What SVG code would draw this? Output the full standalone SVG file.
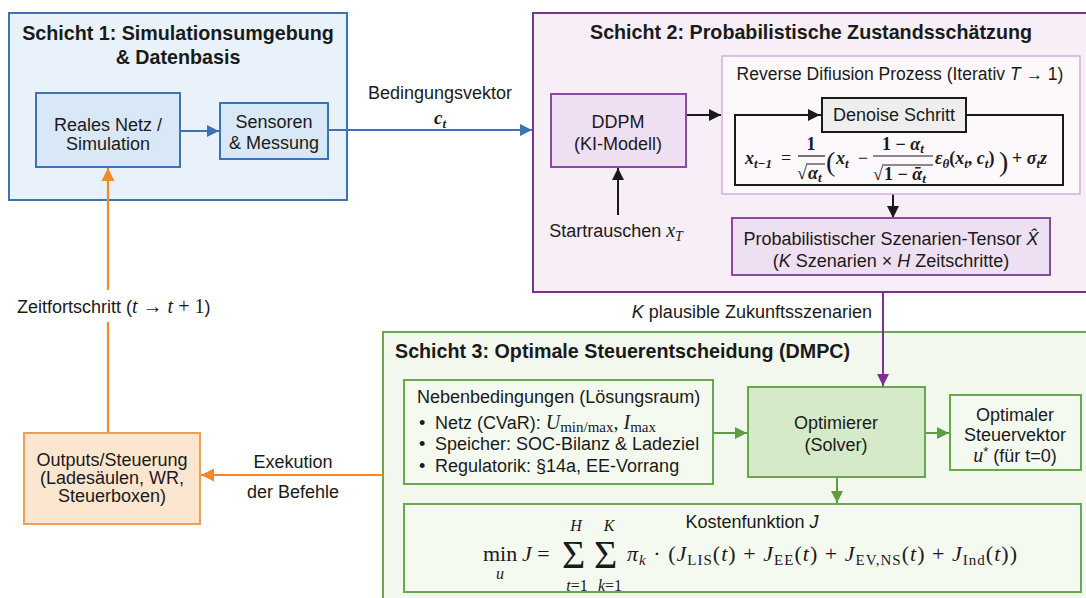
<svg xmlns="http://www.w3.org/2000/svg" width="1086" height="598" viewBox="0 0 1086 598">
<defs>
<style>
.t{font-family:"Liberation Sans",Arial,sans-serif;font-size:18px;fill:#1a1a1a}
.c{text-anchor:middle}
.h{font-family:"Liberation Sans",Arial,sans-serif;font-size:19.7px;font-weight:bold;fill:#1a1a1a}
.m{font-family:"Liberation Serif","DejaVu Serif",serif;font-size:18px;fill:#1a1a1a}
.i{font-style:italic}
.s{font-size:13px}
.k{font-family:"Liberation Serif","DejaVu Serif",serif;font-size:22px;fill:#1a1a1a}
.blue{stroke:#3b73b3;stroke-width:2;fill:none}
.pur{stroke:#7a3190;stroke-width:2;fill:none}
.blk{stroke:#1a1a1a;stroke-width:2;fill:none}
.grn{stroke:#5f9e3f;stroke-width:2;fill:none}
.org{stroke:#f08a2c;stroke-width:2.2;fill:none}
</style>
<marker id="ab" viewBox="0 0 10 10" refX="10" refY="5" markerWidth="6" markerHeight="6" orient="auto-start-reverse"><path d="M0,0 L10,5 L0,10 z" fill="#3b73b3"/></marker>
<marker id="ap" viewBox="0 0 10 10" refX="10" refY="5" markerWidth="6" markerHeight="6" orient="auto-start-reverse"><path d="M0,0 L10,5 L0,10 z" fill="#7a3190"/></marker>
<marker id="ak" viewBox="0 0 10 10" refX="10" refY="5" markerWidth="6" markerHeight="6" orient="auto-start-reverse"><path d="M0,0 L10,5 L0,10 z" fill="#1a1a1a"/></marker>
<marker id="ag" viewBox="0 0 10 10" refX="10" refY="5" markerWidth="6" markerHeight="6" orient="auto-start-reverse"><path d="M0,0 L10,5 L0,10 z" fill="#5f9e3f"/></marker>
<marker id="ao" viewBox="0 0 10 10" refX="10" refY="5" markerWidth="6" markerHeight="6" orient="auto-start-reverse"><path d="M0,0 L10,5 L0,10 z" fill="#f08a2c"/></marker>
</defs>
<rect width="1086" height="598" fill="#ffffff"/>

<!-- Layer containers -->
<g id="schicht1">
<rect x="9" y="13" width="338" height="187" fill="#e9f2fb" stroke="#3b73b3" stroke-width="2"/>
<text class="h c" x="178" y="40">Schicht 1: Simulationsumgebung</text>
<text class="h c" x="178" y="64">&amp; Datenbasis</text>
</g>
<g id="schicht2">
<rect x="533" y="13" width="560" height="279" fill="#f7eef8" stroke="#7a3190" stroke-width="2"/>
<text class="h c" x="811" y="39">Schicht 2: Probabilistische Zustandsschätzung</text>
</g>
<g id="schicht3">
<rect x="383" y="332" width="710" height="272" fill="#f3f8ee" stroke="#6aa84f" stroke-width="2"/>
<text class="h" x="395" y="358">Schicht 3: Optimale Steuerentscheidung (DMPC)</text>
</g>

<!-- Connectors -->
<g id="connectors">
<line class="blue" x1="180" y1="131" x2="219" y2="131" marker-end="url(#ab)"/>
<line class="blue" x1="328" y1="130" x2="532" y2="130" marker-end="url(#ab)"/>
<text class="t c" x="440" y="99">Bedingungsvektor</text>
<text class="m i c" x="440" y="124" style="font-weight:bold;font-size:19px">c<tspan style="font-size:13px" dy="4">t</tspan></text>
<line class="blk" x1="686" y1="115" x2="721" y2="115" marker-end="url(#ak)"/>
<line class="blk" x1="618" y1="215" x2="618" y2="168" marker-end="url(#ak)"/>
<line class="blk" x1="893" y1="185" x2="893" y2="218" marker-end="url(#ak)"/>
<line class="pur" x1="883" y1="292" x2="883" y2="386" marker-end="url(#ap)"/>
<text class="t" x="872" y="318" text-anchor="end"><tspan font-style="italic">K</tspan> plausible Zukunftsszenarien</text>
<line class="grn" x1="713" y1="433" x2="747" y2="433" marker-end="url(#ag)"/>
<line class="grn" x1="925" y1="433" x2="949" y2="433" marker-end="url(#ag)"/>
<line class="grn" x1="837" y1="477" x2="837" y2="503" marker-end="url(#ag)"/>
<line class="org" x1="383" y1="475" x2="201" y2="475" marker-end="url(#ao)"/>
<text class="t c" x="293" y="468">Exekution</text>
<text class="t c" x="293" y="498">der Befehle</text>
<line class="org" x1="108" y1="433" x2="108" y2="322"/>
<line class="org" x1="108" y1="290" x2="108" y2="168" marker-end="url(#ao)"/>
<text class="t" x="17" y="313">Zeitfortschritt (<tspan class="m i" style="font-size:20px">t</tspan><tspan class="m" style="font-size:20px"> → </tspan><tspan class="m i" style="font-size:20px">t</tspan><tspan class="m" style="font-size:20px"> + 1</tspan>)</text>
</g>

<!-- Nodes layer 1 -->
<g id="reales-netz">
<rect x="36" y="93" width="144" height="74" fill="#d9e8f6" stroke="#3b73b3" stroke-width="2"/>
<text class="t c" x="108" y="131">Reales Netz /</text>
<text class="t c" x="108" y="150">Simulation</text>
</g>
<g id="sensoren">
<rect x="220" y="103" width="108" height="56" fill="#d9e8f6" stroke="#3b73b3" stroke-width="2"/>
<text class="t c" x="274" y="128">Sensoren</text>
<text class="t c" x="274" y="149">&amp; Messung</text>
</g>

<!-- Nodes layer 2 -->
<g id="ddpm">
<rect x="551" y="94" width="135" height="73" fill="#efdff2" stroke="#8a4a9e" stroke-width="2"/>
<text class="t c" x="618" y="128">DDPM</text>
<text class="t c" x="618" y="150">(KI-Modell)</text>
</g>
<g id="startrauschen">
<text class="t c" x="616" y="237">Startrauschen <tspan class="m i" style="font-size:20px">x</tspan><tspan class="m i" style="font-size:14px" dy="4">T</tspan></text>
</g>
<g id="reverse-diffusion">
<rect x="722" y="56" width="358" height="138" fill="#fcf8fc" stroke="#d3aede" stroke-width="1.5"/>
<text class="t c" x="900" y="80" style="font-size:17.5px">Reverse Difiusion Prozess (Iterativ <tspan font-style="italic">T</tspan> → 1)</text>
<path class="blk" d="M821,115 L735,115 L735,185 L1063,185 L1063,115 L966,115"/>
<line class="blk" x1="760" y1="115" x2="820" y2="115" marker-end="url(#ak)"/>
<g id="formel-reverse">
<text class="m i" x="745" y="164" style="font-weight:bold">x<tspan class="s" dy="4">t−1</tspan></text>
<text class="m" x="781" y="164">=</text>
<text class="m c" x="811" y="150" style="font-weight:bold">1</text>
<line x1="798" y1="156" x2="825" y2="156" stroke="#1a1a1a" stroke-width="1.2"/>
<text class="m" x="797" y="179">√</text>
<line x1="806" y1="164" x2="825" y2="164" stroke="#1a1a1a" stroke-width="1"/>
<text class="m i" x="808" y="179" style="font-weight:bold">α<tspan class="s" dy="3">t</tspan></text>
<text class="m" x="826" y="171" style="font-size:28px">(</text>
<text class="m i" x="836" y="164" style="font-weight:bold">x<tspan class="s" dy="4">t</tspan></text>
<text class="m" x="858" y="164">−</text>
<text class="m c" x="903" y="150" style="font-weight:bold">1 − <tspan font-style="italic">α</tspan><tspan class="s i" dy="3">t</tspan></text>
<line x1="873" y1="156" x2="933" y2="156" stroke="#1a1a1a" stroke-width="1.2"/>
<text class="m" x="873" y="180">√</text>
<line x1="882" y1="165" x2="933" y2="165" stroke="#1a1a1a" stroke-width="1"/>
<text class="m" x="884" y="180" style="font-weight:bold">1 − <tspan font-style="italic">ᾱ</tspan><tspan class="s i" dy="3">t</tspan></text>
<text class="m" x="935" y="164" style="font-weight:bold"><tspan font-style="italic">ε</tspan><tspan class="s i" dy="4">θ</tspan><tspan dy="-4">(</tspan><tspan font-style="italic">x</tspan><tspan class="s i" dy="4">t</tspan><tspan dy="-4">, </tspan><tspan font-style="italic">c</tspan><tspan class="s i" dy="4">t</tspan><tspan dy="-4">)</tspan></text>
<text class="m" x="999" y="171" style="font-size:28px">)</text>
<text class="m" x="1012" y="164" style="font-weight:bold">+ <tspan font-style="italic">σ</tspan><tspan class="s i" dy="4">t</tspan><tspan font-style="italic" dy="-4">z</tspan></text>
</g>
</g>
<g id="denoise">
<rect x="822" y="98" width="144" height="34" fill="#eeeeee" stroke="#1a1a1a" stroke-width="2"/>
<text class="t c" x="894" y="121">Denoise Schritt</text>
</g>
<g id="tensor">
<rect x="732" y="218" width="318" height="57" fill="#efdff2" stroke="#8a4a9e" stroke-width="2"/>
<text class="t c" x="891" y="245">Probabilistischer Szenarien-Tensor <tspan font-style="italic">X̂</tspan></text>
<text class="t c" x="891" y="267">(<tspan font-style="italic">K</tspan> Szenarien × <tspan font-style="italic">H</tspan> Zeitschritte)</text>
</g>

<!-- Nodes layer 3 -->
<g id="nebenbedingungen">
<rect x="404" y="380" width="309" height="104" fill="#f5faf0" stroke="#6aa84f" stroke-width="2"/>
<text class="t" x="417" y="403">Nebenbedingungen (Lösungsraum)</text>
<text class="t" x="419" y="429">•</text>
<text class="t" x="435" y="429">Netz (CVaR): <tspan class="m i" style="font-size:20px">U</tspan><tspan class="m" style="font-size:15px" dy="3">min/max</tspan><tspan class="m" style="font-size:20px" dy="-3">, </tspan><tspan class="m i" style="font-size:20px">I</tspan><tspan class="m" style="font-size:15px" dy="3">max</tspan></text>
<text class="t" x="419" y="450">•</text>
<text class="t" x="435" y="450">Speicher: SOC-Bilanz &amp; Ladeziel</text>
<text class="t" x="419" y="472">•</text>
<text class="t" x="435" y="472">Regulatorik: §14a, EE-Vorrang</text>
</g>
<g id="optimierer">
<rect x="748" y="387" width="177" height="90" fill="#d5eac8" stroke="#6aa84f" stroke-width="2"/>
<text class="t c" x="836" y="429">Optimierer</text>
<text class="t c" x="836" y="451">(Solver)</text>
</g>
<g id="steuervektor">
<rect x="950" y="395" width="131" height="75" fill="#f5faf0" stroke="#6aa84f" stroke-width="2"/>
<text class="t c" x="1015" y="421">Optimaler</text>
<text class="t c" x="1015" y="441">Steuervektor</text>
<text class="t c" x="1015" y="462"><tspan class="m i" style="font-size:20px">u</tspan><tspan style="font-size:13px" dy="-6">*</tspan><tspan dy="6"> (für t=0)</tspan></text>
</g>
<g id="kostenfunktion">
<rect x="404" y="504" width="677" height="88" fill="#f5faf0" stroke="#6aa84f" stroke-width="2"/>
<text class="t c" x="752" y="528">Kostenfunktion <tspan font-style="italic">J</tspan></text>
<text class="k" x="483" y="561">min</text>
<text class="k i c" x="500" y="579" style="font-size:16px">u</text>
<text class="k" x="522" y="561"><tspan font-style="italic">J</tspan> =</text>
<text class="k" x="562" y="568" style="font-size:40px">Σ</text>
<text class="k i c" x="576" y="531" style="font-size:16px">H</text>
<text class="k i c" x="577" y="591" style="font-size:16px">t<tspan font-style="normal">=1</tspan></text>
<text class="k" x="594" y="568" style="font-size:40px">Σ</text>
<text class="k i c" x="609" y="531" style="font-size:16px">K</text>
<text class="k i c" x="610" y="591" style="font-size:16px">k<tspan font-style="normal">=1</tspan></text>
<text class="k" x="627" y="561" style="font-size:22px" textLength="390" lengthAdjust="spacing"><tspan font-style="italic">π</tspan><tspan font-style="italic" style="font-size:15px" dy="4">k</tspan><tspan dy="-4"> · (</tspan><tspan font-style="italic">J</tspan><tspan style="font-size:15px" dy="4">LIS</tspan><tspan dy="-4">(</tspan><tspan font-style="italic">t</tspan>) + <tspan font-style="italic">J</tspan><tspan style="font-size:15px" dy="4">EE</tspan><tspan dy="-4">(</tspan><tspan font-style="italic">t</tspan>) + <tspan font-style="italic">J</tspan><tspan style="font-size:15px" dy="4">EV,NS</tspan><tspan dy="-4">(</tspan><tspan font-style="italic">t</tspan>) + <tspan font-style="italic">J</tspan><tspan style="font-size:15px" dy="4">Ind</tspan><tspan dy="-4">(</tspan><tspan font-style="italic">t</tspan>))</text>
</g>

<!-- Output node -->
<g id="outputs">
<rect x="24" y="433" width="176" height="91" fill="#fce6d0" stroke="#f0a050" stroke-width="2"/>
<text class="t c" x="112" y="466">Outputs/Steuerung</text>
<text class="t c" x="112" y="484">(Ladesäulen, WR,</text>
<text class="t c" x="112" y="502">Steuerboxen)</text>
</g>
</svg>
